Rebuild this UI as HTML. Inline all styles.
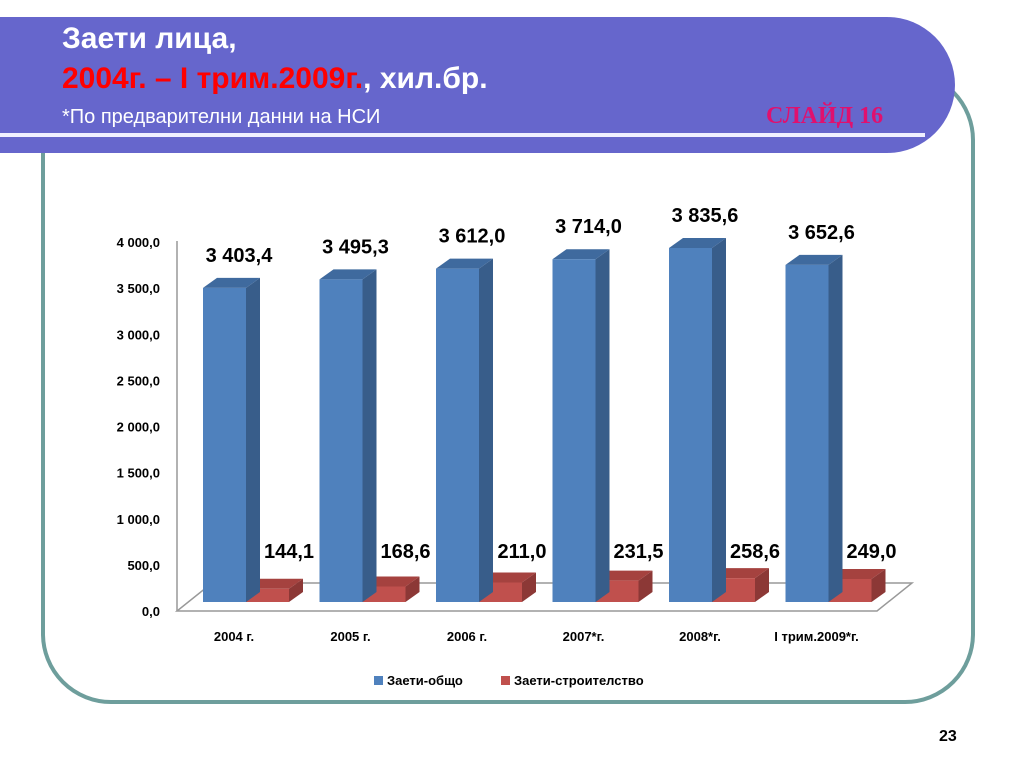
<!DOCTYPE html>
<html><head><meta charset="utf-8">
<style>
body{margin:0;width:1024px;height:768px;background:#fff;overflow:hidden;position:relative;font-family:"Liberation Sans",sans-serif}
.frame{position:absolute;left:41px;top:70px;width:926px;height:626px;border:4px solid #6e9e9c;border-radius:70px;box-sizing:content-box}
.band{position:absolute;left:0;top:17px;width:955px;height:136px;background:#6666cc;border-radius:0 70px 70px 0}
.wline{position:absolute;left:0;top:133px;width:925px;height:4px;background:#f0f0ff}
.t{position:absolute;color:#fff;font-weight:bold;font-size:30px;left:62px}
</style></head><body>
<div class="frame"></div>
<div class="band"></div>
<div class="wline"></div>
<div class="t" style="top:22px">Заети лица,</div>
<div class="t" style="top:62px"><span style="color:#ff0000">2004г. – І трим.2009г.</span>, хил.бр.</div>
<div style="position:absolute;left:62px;top:106px;color:#fff;font-size:20px">*По предварителни данни на НСИ</div>
<div style="position:absolute;left:766px;top:103px;color:#e0106e;font-size:24px;font-weight:bold;font-family:'Liberation Serif',serif">СЛАЙД 16</div>
<div style="position:absolute;left:939px;top:728px;font-size:16px;font-weight:bold">23</div>
<svg id="chart" width="1024" height="768" style="position:absolute;left:0;top:0"></svg>
<script>
const categories=["2004 г.","2005 г.","2006 г.","2007*г.","2008*г.","I трим.2009*г."];
const totalValues=[3403.4,3495.3,3612.0,3714.0,3835.6,3652.6];
const constructionValues=[144.1,168.6,211.0,231.5,258.6,249.0];
const totalLabels=["3 403,4","3 495,3","3 612,0","3 714,0","3 835,6","3 652,6"];
const constrLabels=["144,1","168,6","211,0","231,5","258,6","249,0"];
const ticks=[0,500,1000,1500,2000,2500,3000,3500,4000];
const tickLabels=["0,0","500,0","1 000,0","1 500,0","2 000,0","2 500,0","3 000,0","3 500,0","4 000,0"];
const svg=document.getElementById('chart');
const NS='http://www.w3.org/2000/svg';
function mk(t,a,txt){const e=document.createElementNS(NS,t);for(const k in a)e.setAttribute(k,a[k]);if(txt!==undefined)e.textContent=txt;svg.appendChild(e);return e;}
const axisY=v=>611-v*0.09225;
const barY=v=>602-v*0.0923;
const xCat=i=>203+i*116.5;
const F='"Liberation Sans",sans-serif';
// floor & axis
let e=mk('polygon',{points:'177,611 877,611 912,583 212,583',fill:'none',stroke:'#999','stroke-width':1.5});

e=mk('line',{x1:177,y1:611,x2:177,y2:241,stroke:'#999','stroke-width':1.5});

ticks.forEach((t,i)=>{
  const l=mk('text',{x:160,y:axisY(t)+5,'text-anchor':'end','font-size':13,'font-weight':'bold','font-family':F},tickLabels[i]);
  
  
});
function bar(x,w,v,front,side,top,name){
  const y=barY(v),b=602,dx=14,dy=10;
  const g=document.createElementNS(NS,'g');svg.appendChild(g);
  
  
  const p=(pts,f)=>{const q=document.createElementNS(NS,'polygon');q.setAttribute('points',pts);q.setAttribute('fill',f);g.appendChild(q);};
  p(`${x+w},${y} ${x+w+dx},${y-dy} ${x+w+dx},${b-dy} ${x+w},${b}`,side);
  p(`${x},${y} ${x+dx},${y-dy} ${x+w+dx},${y-dy} ${x+w},${y}`,top);
  p(`${x},${y} ${x+w},${y} ${x+w},${b} ${x},${b}`,front);
}
categories.forEach((c,i)=>{
  const x=xCat(i);
  bar(x+43,43,constructionValues[i],'#c0504d','#8c3836','#a5423f','bar-construction');
  bar(x,43,totalValues[i],'#4f81bd','#385d8a','#3f6a9e','bar-total');
  let l=mk('text',{x:x+36,y:barY(totalValues[i])-26,'text-anchor':'middle','font-size':20,'font-weight':'bold','font-family':F},totalLabels[i]);
  
  
  l=mk('text',{x:x+86,y:558,'text-anchor':'middle','font-size':20,'font-weight':'bold','font-family':F},constrLabels[i]);
  
  
  l=mk('text',{x:x+31,y:641,'text-anchor':'middle','font-size':13,'font-weight':'bold','font-family':F},c);
  
  
});
// legend
e=mk('rect',{x:374,y:676,width:9,height:9,fill:'#4f81bd'});

e=mk('text',{x:387,y:685,'font-size':13,'font-weight':'bold','font-family':F},'Заети-общо');

e=mk('rect',{x:501,y:676,width:9,height:9,fill:'#c0504d'});

e=mk('text',{x:514,y:685,'font-size':13,'font-weight':'bold','font-family':F},'Заети-строителство');

</script>
</body></html>
